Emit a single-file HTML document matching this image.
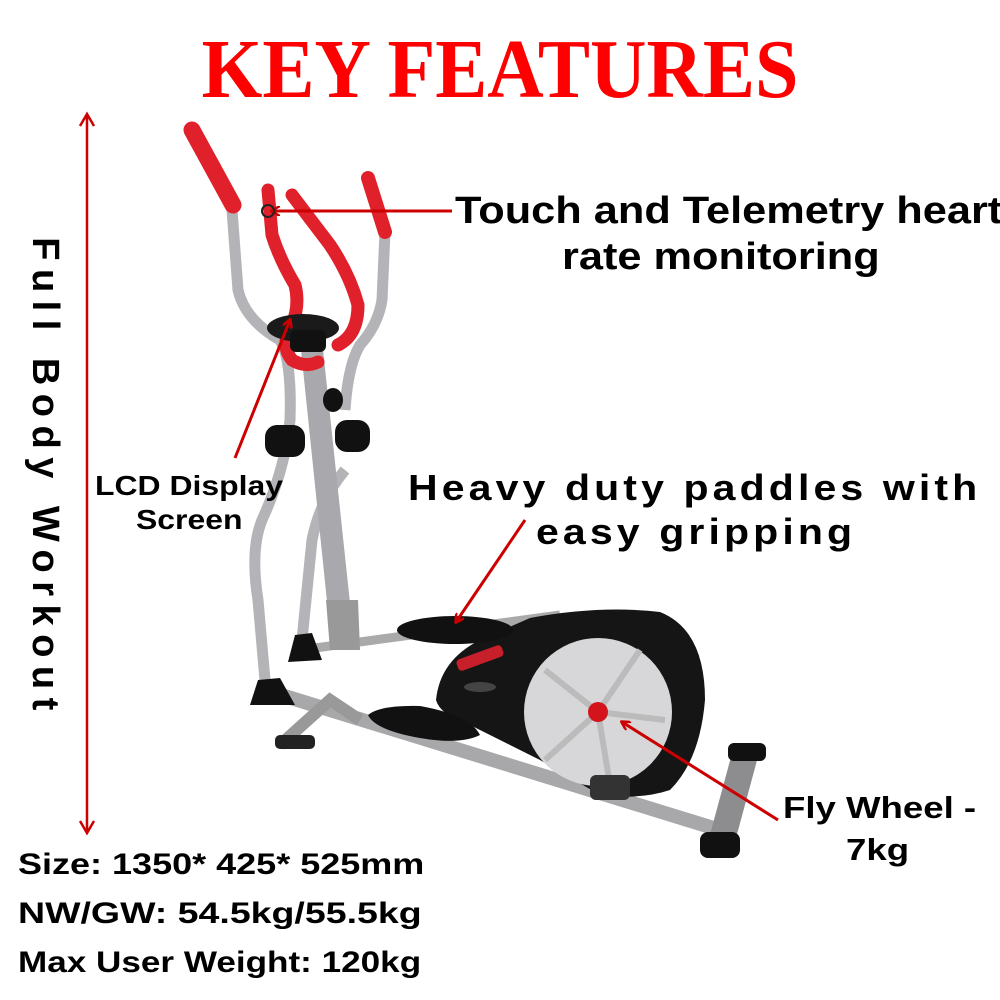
<!DOCTYPE html>
<html><head><meta charset="utf-8"><style>
html,body{margin:0;padding:0;background:#fff;}
body{width:1000px;height:1000px;position:relative;overflow:hidden;font-family:"Liberation Sans",sans-serif;}
.t{position:absolute;font-weight:bold;color:#000;white-space:nowrap;line-height:1;transform-origin:left top;}
</style></head><body>
<svg width="1000" height="1000" style="position:absolute;left:0;top:0">
<defs>
<marker id="ah" markerWidth="10" markerHeight="10" refX="8" refY="5" orient="auto" markerUnits="userSpaceOnUse"><path d="M0,0 L9,5 L0,10" fill="none" stroke="#c00" stroke-width="2.5"/></marker>
</defs>
<line x1="87" y1="115" x2="87" y2="832" stroke="#c00" stroke-width="2.5"/>
<path d="M80,126 L87,114 L94,126 M80,821 L87,833 L94,821" fill="none" stroke="#c00" stroke-width="2.5"/>
<path d="M265,690 L720,830" stroke="#a8a8ab" stroke-width="14" stroke-linecap="round"/>
<path d="M280,745 L330,700 L360,720" stroke="#999" stroke-width="12" fill="none"/>
<path d="M300,650 L560,615" stroke="#aaa" stroke-width="9"/>
<path d="M232,210 L238,290 Q245,320 280,340 Q292,360 290,420 Q285,470 262,520 Q250,550 258,600 L265,680" stroke="#b4b4b8" stroke-width="11" fill="none" stroke-linecap="round"/>
<path d="M385,232 L382,300 Q378,325 360,345 Q348,365 345,410" stroke="#b4b4b8" stroke-width="11" fill="none"/>
<path d="M345,470 Q320,500 312,540 L302,640" stroke="#b4b4b8" stroke-width="11" fill="none"/>
<path d="M300,340 L322,340 L355,650 L332,650 Z" fill="#a9a9ad"/>
<path d="M326,600 L358,600 L360,650 L330,650Z" fill="#999"/>
<path d="M192,130 L233,205" stroke="#e0202a" stroke-width="17" stroke-linecap="round"/>
<path d="M368,178 L385,232" stroke="#e0202a" stroke-width="14" stroke-linecap="round"/>
<path d="M268,190 L272,235 Q280,260 295,285 Q300,305 292,325 Q280,345 292,360 Q305,368 318,362" stroke="#e0202a" stroke-width="13" fill="none" stroke-linecap="round"/>
<path d="M292,195 L330,245 Q350,275 358,305 Q358,335 338,345" stroke="#e0202a" stroke-width="13" fill="none" stroke-linecap="round"/>
<ellipse cx="303" cy="328" rx="36" ry="14" fill="#1a1a1a"/>
<rect x="290" y="330" width="36" height="22" rx="6" fill="#111"/>
<rect x="265" y="425" width="40" height="32" rx="12" fill="#111"/>
<rect x="335" y="420" width="35" height="32" rx="12" fill="#111"/>
<ellipse cx="333" cy="400" rx="10" ry="12" fill="#111"/>
<path d="M250,705 L258,680 L280,678 L295,705 Z" fill="#111"/>
<path d="M288,662 L295,635 L312,633 L322,660Z" fill="#111"/>
<rect x="275" y="735" width="40" height="14" rx="5" fill="#222"/>
<path d="M436,700 Q440,660 480,640 L530,618 Q600,605 660,612 Q705,630 705,700 Q700,760 670,790 Q640,800 600,795 L540,760 L470,725 Q440,715 436,700Z" fill="#151515"/>
<circle cx="598" cy="712" r="74" fill="#d7d7d9"/>
<path d="M598,712 L640,650 M598,712 L665,720 M598,712 L610,785 M598,712 L545,760 M598,712 L545,670" stroke="#bbb" stroke-width="6"/>
<circle cx="598" cy="712" r="10" fill="#d4141c"/>
<rect x="456" y="652" width="48" height="12" rx="4" fill="#c8202a" transform="rotate(-20 480 658)"/>
<ellipse cx="480" cy="687" rx="16" ry="5" fill="#444"/>
<ellipse cx="455" cy="630" rx="58" ry="14" fill="#111"/>
<path d="M368,715 Q380,705 420,706 Q470,715 480,735 Q460,745 420,738 Q375,730 368,715Z" fill="#111"/>
<path d="M745,755 L722,840" stroke="#8d8d90" stroke-width="26"/>
<rect x="728" y="743" width="38" height="18" rx="6" fill="#111"/>
<rect x="700" y="832" width="40" height="26" rx="8" fill="#111"/>
<rect x="590" y="775" width="40" height="25" rx="6" fill="#333"/>
<line x1="452" y1="211" x2="272" y2="211" stroke="#c00" stroke-width="3" marker-end="url(#ah)"/>
<circle cx="268" cy="211" r="6" fill="none" stroke="#222" stroke-width="2"/>
<line x1="235" y1="458" x2="290" y2="320" stroke="#c00" stroke-width="3" marker-end="url(#ah)"/>
<line x1="525" y1="520" x2="456" y2="622" stroke="#c00" stroke-width="3" marker-end="url(#ah)"/>
<line x1="778" y1="820" x2="622" y2="722" stroke="#c00" stroke-width="3" marker-end="url(#ah)"/>
</svg>
<div class="t" style="left:0;width:1000px;text-align:center;top:28px;font-family:'Liberation Serif',serif;font-size:84px;color:#f00;transform:scaleX(0.93);transform-origin:center top">KEY FEATURES</div>
<div class="t" style="left:45px;top:478px;font-size:38px;letter-spacing:8.5px;transform:translate(-50%,-50%) rotate(90deg);transform-origin:center center">Full Body Workout</div>
<div class="t" style="left:455px;top:192px;font-size:38px;transform:scaleX(1.14)">Touch and Telemetry heart</div>
<div class="t" style="left:562px;top:238px;font-size:38px;transform:scaleX(1.14)">rate monitoring</div>
<div class="t" style="left:408px;top:470px;font-size:36px;letter-spacing:3.6px;transform:scaleX(1.14)">Heavy duty paddles with</div>
<div class="t" style="left:536px;top:514px;font-size:36px;letter-spacing:3.6px;transform:scaleX(1.14)">easy gripping</div>
<div class="t" style="left:95px;top:472px;font-size:28px;transform:scaleX(1.14)">LCD Display</div>
<div class="t" style="left:136px;top:506px;font-size:28px;transform:scaleX(1.14)">Screen</div>
<div class="t" style="left:783px;top:792px;font-size:31px;transform:scaleX(1.18)">Fly Wheel -</div>
<div class="t" style="left:846px;top:834px;font-size:31px;transform:scaleX(1.18)">7kg</div>
<div class="t" style="left:18px;top:850px;font-size:30px;transform:scaleX(1.2)">Size: 1350* 425* 525mm</div>
<div class="t" style="left:18px;top:899px;font-size:30px;transform:scaleX(1.25)">NW/GW: 54.5kg/55.5kg</div>
<div class="t" style="left:18px;top:948px;font-size:30px;transform:scaleX(1.17)">Max User Weight: 120kg</div>
</body></html>
